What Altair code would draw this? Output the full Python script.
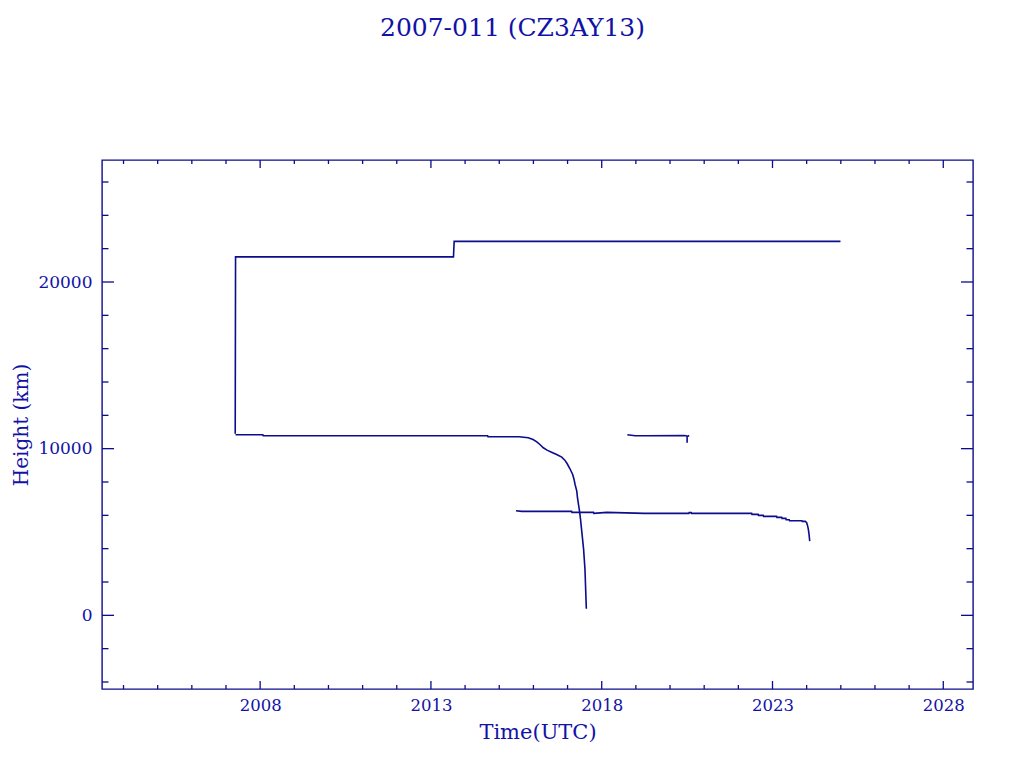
import altair as alt
import pandas as pd

# ---- data (decimal year, height km) ----
upper_t = [2007.27, 2007.28, 2013.66, 2013.68, 2024.99]
upper_h = [10900, 21505, 21505, 22440, 22440]

lower_t = [2007.28, 2008.08, 2008.09, 2014.66, 2014.67, 2015.58, 2015.85, 2015.99, 2016.10,
           2016.19, 2016.29, 2016.40, 2016.53, 2016.68, 2016.83, 2016.92, 2016.99, 2017.07,
           2017.15, 2017.19, 2017.22, 2017.27, 2017.29, 2017.32, 2017.35, 2017.38, 2017.41,
           2017.44, 2017.47, 2017.49, 2017.51, 2017.52, 2017.53, 2017.54, 2017.55]
lower_h = [10833, 10833, 10773, 10773, 10713, 10713, 10653, 10551, 10412,
           10251, 10053, 9910, 9790, 9652, 9490, 9310, 9094, 8795,
           8453, 8153, 7853, 7452, 7056, 6654, 6253, 5755, 5156,
           4556, 3957, 3357, 2758, 2158, 1559, 959, 400]

mid_t = [2018.75, 2018.98, 2019.30, 2020.39, 2020.47, 2020.50, 2020.50, 2020.50, 2020.56]
mid_h = [10833, 10773, 10773, 10791, 10780, 10750, 10350, 10720, 10790]

low_t = [2015.49, 2015.66, 2017.12, 2017.13, 2017.76, 2017.77, 2018.15, 2019.25, 2020.55,
         2020.56, 2020.62, 2020.63, 2022.39, 2022.40, 2022.58, 2022.59, 2022.73, 2022.74,
         2023.12, 2023.13, 2023.27, 2023.28, 2023.39, 2023.40, 2023.49, 2023.50, 2023.86,
         2023.87, 2023.96, 2024.00, 2024.03, 2024.05, 2024.07, 2024.09]
low_h = [6276, 6235, 6235, 6175, 6175, 6115, 6175, 6115, 6115,
         6160, 6160, 6115, 6115, 6055, 6055, 5995, 5995, 5935,
         5935, 5875, 5875, 5815, 5815, 5735, 5735, 5675, 5675,
         5635, 5635, 5555, 5355, 5156, 4856, 4455]

x_major = [2008, 2013, 2018, 2023, 2028]
x_minor = [2004, 2005, 2006, 2007, 2009, 2010, 2011, 2012, 2014, 2015, 2016, 2017,
           2019, 2020, 2021, 2022, 2024, 2025, 2026, 2027]
y_major = [0, 10000, 20000]
y_minor = [-4000, -2000, 2000, 4000, 6000, 8000, 12000, 14000, 16000, 18000,
           22000, 24000, 26000]

X_DOMAIN = [2003.37, 2028.87]
Y_DOMAIN = [-4420, 27320]

LINE = "#0c0c8c"
TEXT = "#1212a6"
FONT = "DejaVu Serif"
W, H = 871, 529

rows = []
for name, ts, hs in [("upper", upper_t, upper_h), ("lower", lower_t, lower_h),
                     ("mid", mid_t, mid_h), ("low", low_t, low_h)]:
    for i, (t, h) in enumerate(zip(ts, hs)):
        rows.append({"series": name, "i": i, "t": t, "h": h})
df = pd.DataFrame(rows)

xs = alt.Scale(domain=X_DOMAIN, nice=False, zero=False)
ys = alt.Scale(domain=Y_DOMAIN, nice=False, zero=False)

xa = alt.Axis(values=x_major, format="d", title="Time(UTC)", ticks=False, domain=False,
              grid=False, labelFont=FONT, labelFontSize=16.5, labelColor=TEXT, labelPadding=8,
              titleFont=FONT, titleFontSize=21, titleFontWeight="normal", titleColor=TEXT,
              titlePadding=8)
ya = alt.Axis(values=y_major, format="d", title="Height (km)", ticks=False, domain=False,
              grid=False, labelFont=FONT, labelFontSize=17, labelColor=TEXT, labelPadding=10,
              titleFont=FONT, titleFontSize=20, titleFontWeight="normal", titleColor=TEXT,
              titlePadding=6)

lines = alt.Chart(df).mark_line(color=LINE, strokeWidth=1.6, strokeJoin="miter").encode(
    x=alt.X("t:Q", scale=xs, axis=xa),
    y=alt.Y("h:Q", scale=ys, axis=ya),
    detail="series:N",
    order="i:Q",
)

xmaj = pd.DataFrame({"t": x_major})
xmin = pd.DataFrame({"t": x_minor})
ymaj = pd.DataFrame({"h": y_major})
ymin = pd.DataFrame({"h": y_minor})


def xticks(d, length):
    base = alt.Chart(d).mark_rule(color=LINE, strokeWidth=1.3)
    enc_x = alt.X("t:Q", scale=xs, axis=xa)
    return (base.encode(x=enc_x, y=alt.value(H), y2=alt.value(H - length)) +
            base.encode(x=enc_x, y=alt.value(0), y2=alt.value(length)))


def yticks(d, length):
    base = alt.Chart(d).mark_rule(color=LINE, strokeWidth=1.3)
    enc_y = alt.Y("h:Q", scale=ys, axis=ya)
    return (base.encode(y=enc_y, x=alt.value(0), x2=alt.value(length)) +
            base.encode(y=enc_y, x=alt.value(W), x2=alt.value(W - length)))


chart = alt.layer(
    lines,
    xticks(xmaj, 8), xticks(xmin, 4),
    yticks(ymaj, 12), yticks(ymin, 6.5),
).properties(
    width=W, height=H,
    background="white",
    title=alt.TitleParams("2007-011 (CZ3AY13)", font=FONT, fontSize=25,
                          fontWeight="normal", color=TEXT, anchor="middle",
                          dx=-25, offset=118),
    autosize="none",
    padding={"left": 94, "top": 152, "right": 43, "bottom": 71},
).configure_view(
    stroke=LINE, strokeWidth=1.4,
)

chart.save("out.html", embed_options={"renderer": "svg", "actions": False})
